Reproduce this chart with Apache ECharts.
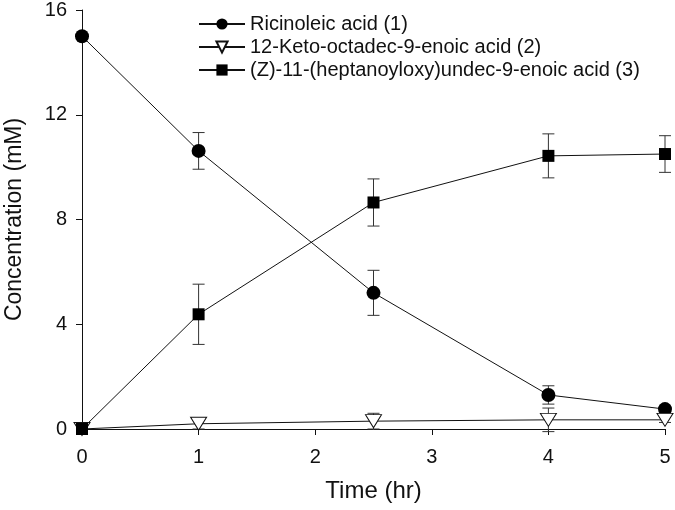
<!DOCTYPE html>
<html lang="en">
<head>
    <meta charset="UTF-8">
    <title>Concentration vs time</title>
    <style>
        body{ margin: 0; background: #fff; }
        #main{ width: 675px; height: 510px; }
    </style>
</head>
<body>
    <div id="main"></div>
    <script src="https://cdn.jsdelivr.net/npm/echarts@6/dist/echarts.min.js"></script>
    <script>
        // data
        var timeHr = [0, 1, 2.5, 4, 5];
        var ricinoleic = [15.0, 10.62, 5.2, 1.3, 0.76];
        var ricinoleicErr = [0, 0.7, 0.86, 0.35, 0.12];
        var keto = [0, 0.2, 0.3, 0.35, 0.35];
        var ketoErr = [0, 0.2, 0.3, 0.45, 0.1];
        var heptanoyl = [0, 4.38, 8.65, 10.43, 10.5];
        var heptanoylErr = [0, 1.15, 0.9, 0.84, 0.7];
        var yTicks = [0, 4, 8, 12, 16];

        var names = ['Ricinoleic acid (1)', '12-Keto-octadec-9-enoic acid (2)', '(Z)-11-(heptanoyloxy)undec-9-enoic acid (3)'];
        var font = '"Liberation Sans", Arial, sans-serif';

        function pairs(ys){
            return timeHr.map(function(x, i){ return [x, ys[i]]; });
        }
        function errPairs(ys, es){
            return timeHr.map(function(x, i){ return [x, ys[i] - es[i], ys[i] + es[i]]; });
        }

        function errSeries(ys, es){
            return {
                type: 'custom',
                data: errPairs(ys, es),
                z: 1,
                silent: true,
                renderItem: function(params, api){
                    var lo = api.coord([api.value(0), api.value(1)]);
                    var hi = api.coord([api.value(0), api.value(2)]);
                    var w = 6;
                    var st = { stroke: '#333', lineWidth: 1 };
                    return {
                        type: 'group',
                        children: [
                            { type: 'line', shape: { x1: lo[0], y1: lo[1], x2: hi[0], y2: hi[1] }, style: st },
                            { type: 'line', shape: { x1: hi[0] - w, y1: hi[1], x2: hi[0] + w, y2: hi[1] }, style: st },
                            { type: 'line', shape: { x1: lo[0] - w, y1: lo[1], x2: lo[0] + w, y2: lo[1] }, style: st }
                        ]
                    };
                }
            };
        }

        function lineSeries(name, ys, symbol, size, fill){
            return {
                name: name,
                type: 'line',
                data: pairs(ys),
                symbol: symbol,
                symbolSize: size,
                showAllSymbol: true,
                z: 3,
                lineStyle: { color: '#111', width: 1 },
                itemStyle: { color: fill, borderColor: '#111', borderWidth: fill === '#fff' ? 1 : 0 }
            };
        }

        var triangleDown = 'path://M0,0 L10,0 L5,8 Z';

        var myChart = echarts.init(document.getElementById('main'));
        var option = {
            animation: false,
            textStyle: { fontFamily: font },
            grid: { left: 82, right: 10, top: 10, bottom: 81, outerBoundsMode: 'none', containLabel: false },
            legend: {
                orient: 'vertical',
                left: 193,
                top: 9,
                itemGap: 3,
                itemWidth: 46,
                itemHeight: 14,
                data: names,
                textStyle: { fontSize: 20, color: '#111', fontFamily: font }
            },
            xAxis: {
                type: 'value',
                min: 0, max: 5, interval: 1,
                name: 'Time (hr)',
                nameLocation: 'middle',
                nameGap: 50,
                nameTextStyle: { fontSize: 24, color: '#111' },
                axisLine: { onZero: false, lineStyle: { color: '#111', width: 1 } },
                axisTick: { length: 6, lineStyle: { color: '#111' } },
                axisLabel: { fontSize: 20, color: '#111', margin: 18 },
                splitLine: { show: false }
            },
            yAxis: {
                type: 'value',
                min: yTicks[0], max: yTicks[yTicks.length - 1], interval: 4,
                name: 'Concentration (mM)',
                nameLocation: 'middle',
                nameGap: 56,
                nameTextStyle: { fontSize: 23, color: '#111' },
                axisLine: { show: true, lineStyle: { color: '#111', width: 1 } },
                axisTick: { show: true, length: 6, lineStyle: { color: '#111' } },
                axisLabel: { fontSize: 20, color: '#111', margin: 15 },
                splitLine: { show: false }
            },
            series: [
                errSeries(ricinoleic, ricinoleicErr),
                errSeries(keto, ketoErr),
                errSeries(heptanoyl, heptanoylErr),
                lineSeries(names[0], ricinoleic, 'circle', 14, '#000'),
                lineSeries(names[1], keto, triangleDown, [16, 13], '#fff'),
                lineSeries(names[2], heptanoyl, 'rect', 12, '#000')
            ]
        };
        myChart.setOption(option);
    </script>
</body>
</html>
